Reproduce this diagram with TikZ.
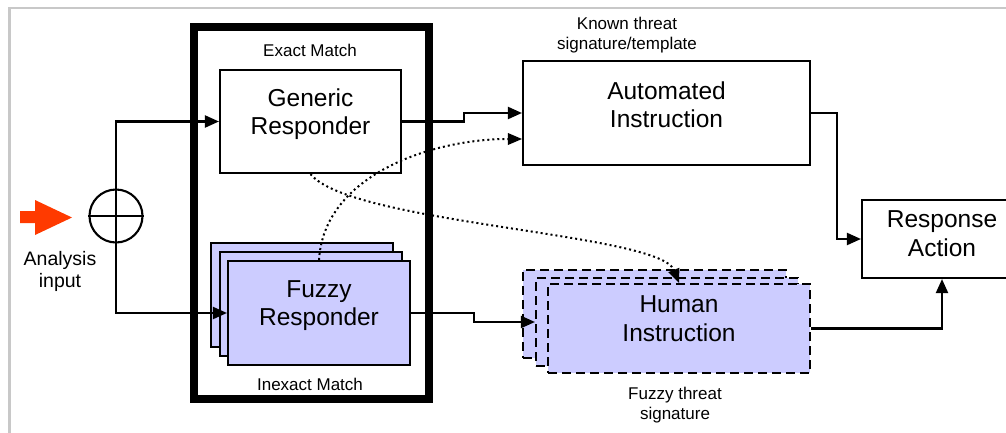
\documentclass[tikz,border=0pt]{standalone}
\usepackage{fontspec}
\setmainfont{Liberation Sans}
\usetikzlibrary{arrows.meta,calc}
\definecolor{lav}{RGB}{204,204,255}
\definecolor{inred}{RGB}{255,58,0}
\definecolor{framegray}{RGB}{200,200,200}

\begin{document}
\begin{tikzpicture}[x=1pt,y=-1pt,
  big/.style={font=\fontsize{24.5}{28.5}\selectfont},
  small/.style={font=\fontsize{17}{19.5}\selectfont},
  box/.style={draw,line width=2.1pt,align=center,inner sep=0pt,big,text depth=20pt},
  layer/.style={draw,line width=2.1pt,fill=lav,inner sep=0pt,align=center,big},
  dlayer/.style={layer,dash pattern=on 9pt off 5pt},
  conn/.style={line width=2.1pt,-{Triangle[length=14pt,width=12pt]}},
  dotconn/.style={line width=2pt,dash pattern=on 2pt off 3pt,
    -{Triangle[length=14pt,width=12pt,line width=0pt]}},
  caption/.style={small,align=center,inner sep=0pt},
]
\useasboundingbox (0,0) rectangle (1006,432);
\clip (0,0) rectangle (1006,432);

% outer frame
\draw[framegray,line width=2.5pt] (9.5,445) -- (9.5,8) -- (1020,8);

% matching stage
\node[draw,line width=7.5pt,minimum width=235pt,minimum height=372pt,inner sep=0pt]
  (stage) at (311.5,213) {};
\node[caption] (exactlbl) at (310,50) {Exact Match};
\node[caption] (inexactlbl) at (310,384) {Inexact Match};

\node[box,minimum width=181pt,minimum height=103pt] (gen) at (310.5,121.5) {Generic\\Responder};

\node[layer,minimum width=182pt,minimum height=104pt] (fz1) at (302,295) {};
\node[layer,minimum width=182pt,minimum height=104pt] (fz2) at (311,304) {};
\node[layer,minimum width=182pt,minimum height=104pt,text depth=20pt] (fz3) at (319,313) {Fuzzy\\Responder};

% instruction stage
\node[box,minimum width=287pt,minimum height=104pt,text depth=17pt] (auto) at (666.5,113) {Automated\\Instruction};
\node[caption] (knownlbl) at (627,35) {Known threat\\signature/template};

\node[dlayer,minimum width=263pt,minimum height=88pt] (hm1) at (654.5,314) {};
\node[dlayer,minimum width=262pt,minimum height=88pt] (hm2) at (667,322) {};
\node[dlayer,minimum width=262pt,minimum height=89pt,text depth=20pt] (hm3) at (679,328.5) {Human\\Instruction};
\node[caption] (fuzzylbl) at (675,405) {Fuzzy threat\\signature};

\node[box,minimum width=160pt,minimum height=78pt,text depth=11pt] (resp) at (942,239) {Response\\Action};

% input
\fill[inred] (20,211) -- (35,211) -- (35,200) -- (72,217.5) -- (35,235) -- (35,223) -- (20,223) -- cycle;
\node[align=center,inner sep=0pt,font=\fontsize{19.5}{22}\selectfont] (inlbl) at (60,271) {Analysis\\input};

\node[draw,circle,line width=2.1pt,minimum size=53pt,inner sep=0pt] (sum) at (116,216) {};
\draw[line width=2.1pt] (sum.north) -- (sum.south);
\draw[line width=2.1pt] (sum.west) -- (sum.east);

% connectors
\draw[conn] (sum.north) |- (gen.west);
\draw[conn] (sum.south) |- (fz3.west);
\draw[conn] (gen.east) -- ++(62,0) |- (auto.west);
\draw[conn] (fz3.east) -- ++(63,0) |- (hm2.west);
\draw[conn] (auto.east) -- ++(26,0) |- (resp.west);
\draw[conn] (hm3.east) -| (resp.south);

\coordinate (autoin) at ($(auto.west)+(0,26)$);
\draw[dotconn] (fz3.north) .. controls +(5,-85) and +(-90,0) .. (autoin);
\draw[dotconn] (gen.south) .. controls +(40,50) and +(-20,-50) .. (hm3.north);
\end{tikzpicture}
\end{document}
